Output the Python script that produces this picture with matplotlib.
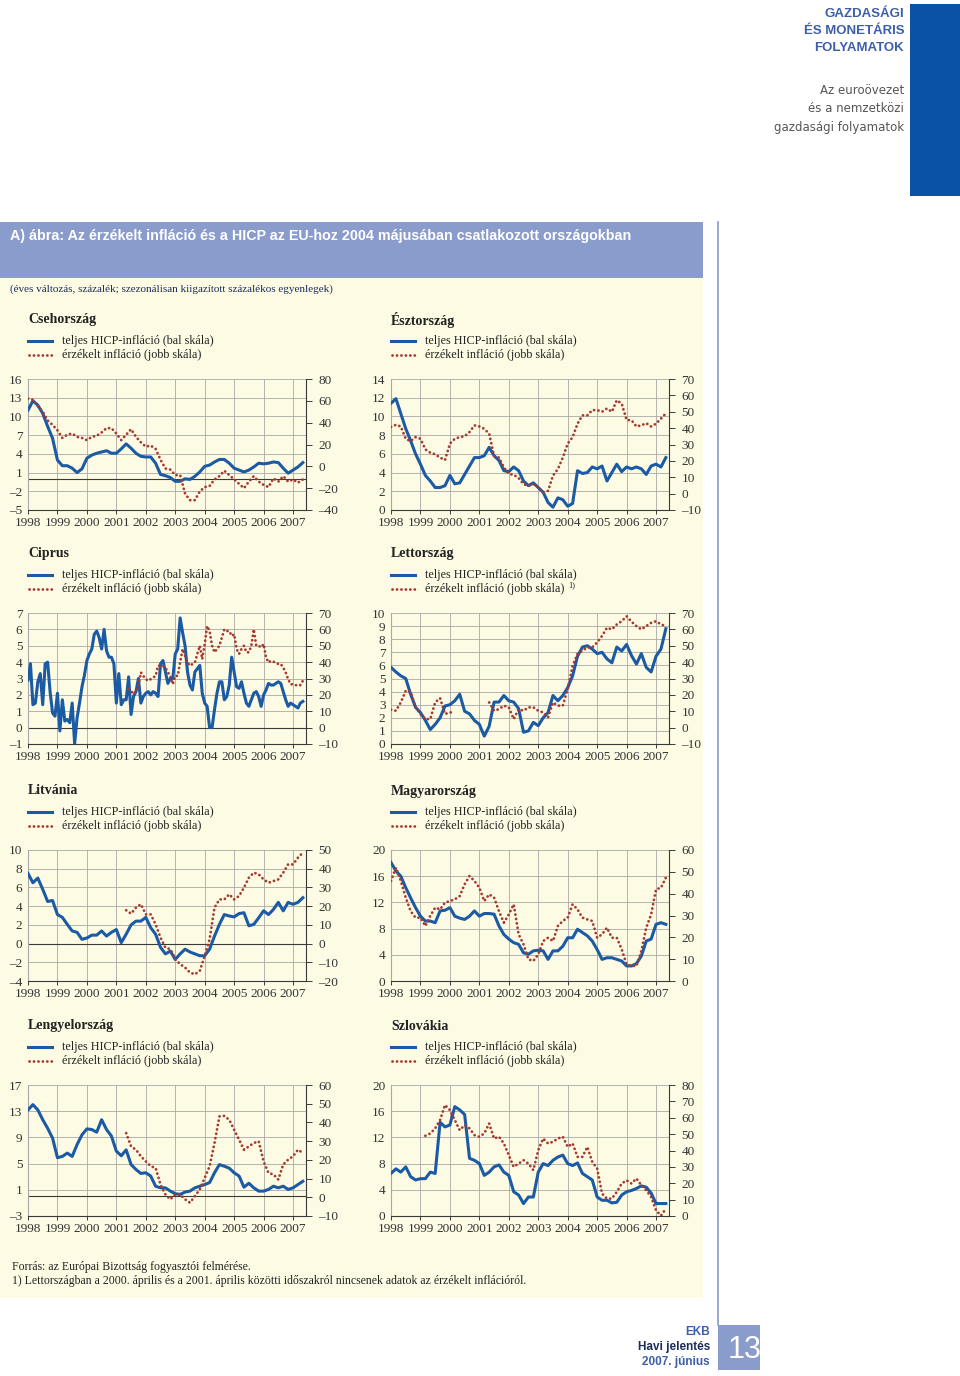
import numpy as np
import matplotlib
matplotlib.use('Agg')
import matplotlib.pyplot as plt
from matplotlib.lines import Line2D
from matplotlib.patches import Rectangle

W, H = 960, 1376
SERIF = ['Liberation Serif', 'DejaVu Serif']
SANS = ['Liberation Sans', 'DejaVu Sans']

BLUE = '#1b5aa5'
RED = '#a53a30'
BAR = '#8a9ccc'
CREAM = '#fdfbe3'

YEARS = list(range(1998, 2008))

# monthly index 0 = January 1998; most series are read every 2 months
cz_hicp = [11.0, 12.5, 11.8, 10.5, 8.4, 6.5,
           3.0, 2.1, 2.1, 1.7, 1.0, 1.6,
           3.3, 3.8, 4.1, 4.3, 4.5, 4.1,
           4.1, 4.8, 5.6, 4.9, 4.1, 3.6,
           3.5, 3.5, 2.5, 0.7, 0.5, 0.2,
           -0.4, -0.4, 0.0, -0.1, 0.4, 1.1,
           2.0, 2.2, 2.7, 3.1, 3.1, 2.5,
           1.7, 1.4, 1.1, 1.4, 1.9, 2.5,
           2.4, 2.5, 2.7, 2.6, 1.7, 0.9,
           1.4, 1.9, 2.6]
cz_perc = [62, 61, 55, 50, 42, 38,
           33, 26, 29, 30, 27, 26,
           24, 27, 28, 31, 35, 35,
           30, 24, 29, 34, 27, 22,
           18, 19, 16, 6, -2, -3,
           -8, -8, -25, -31, -31, -23,
           -19, -18, -12, -9, -4, -8,
           -12, -16, -20, -14, -9, -14,
           -17, -19, -11, -14, -9, -14,
           -12, -15, -12]

ee_hicp = [11.4, 11.9, 10.3, 8.7, 7.4, 6.0,
           4.9, 3.7, 3.1, 2.4, 2.4, 2.6,
           3.7, 2.8, 2.9, 3.8, 4.7, 5.6,
           5.6, 5.8, 6.7, 5.8, 5.3, 4.2,
           4.1, 4.6, 4.2, 3.1, 2.6, 2.9,
           2.4, 1.9, 0.8, 0.3, 1.3, 1.1,
           0.4, 0.7, 4.2, 3.9, 4.0, 4.6,
           4.4, 4.7, 3.1, 4.0, 4.9, 4.1,
           4.6, 4.4, 4.6, 4.4, 3.8, 4.7,
           4.9, 4.6, 5.6]
ee_perc = [40.7, 42, 41, 33.5, 32, 34.5,
           33.5, 27, 25, 24, 22, 20.5,
           30.5, 33.5, 34.5, 35, 37.6, 41.7,
           41, 39.6, 36.6, 23, 22, 16,
           12, 11.5, 9.5, 5.8, 4.8, 5.8,
           3.8, 0.6, 1.7, 11, 15, 22,
           30.5, 34.5, 42.7, 47.8, 47.8, 51,
           51, 50, 52, 50, 57, 55,
           45, 44.8, 41, 41.7, 43, 41,
           42.7, 45.8, 49]

# Cyprus is read every month
cy_hicp = [2.9, 3.9, 1.4, 1.5, 2.8, 3.3, 1.4, 3.9, 4.0, 2.2, 0.9, 0.7,
           2.1, -0.2, 1.7, 0.4, 0.5, 0.3, 1.5, -1.0, 0.6, 1.5, 2.5, 3.2,
           4.1, 4.5, 4.8, 5.7, 5.9, 5.5, 4.8, 6.0, 4.7, 4.3, 4.3, 3.9,
           1.5, 3.3, 1.4, 1.7, 1.7, 3.1, 0.8, 1.9, 2.2, 3.0, 1.5, 1.9,
           2.1, 2.2, 2.0, 2.2, 2.1, 1.9, 3.9, 4.1, 3.4, 2.7, 3.0, 3.0,
           4.5, 4.8, 6.7, 5.8, 5.0, 3.4, 2.6, 2.3, 3.4, 3.6, 3.8, 2.1,
           1.5, 1.3, 0.0, 0.0, 1.1, 2.1, 2.8, 2.8, 1.7, 1.9, 2.6, 4.3,
           3.4, 2.5, 2.4, 2.8, 2.1, 1.5, 1.3, 1.7, 2.1, 2.2, 1.9, 1.3,
           2.0, 2.3, 2.7, 2.6, 2.6, 2.7, 2.8, 2.7, 2.2, 1.7, 1.3, 1.5,
           1.4, 1.3, 1.2, 1.5, 1.6]
cy_perc = [23.5, 22.4, 20.4, 22, 25.5, 33.7, 31.6,
           29.6, 28.6, 29.6, 30.6, 31.6, 37.8, 37.8, 37.8, 36.7, 33.7, 31.6, 26.5,
           31.6, 31.6, 40, 48, 43.9, 39.8, 37.8, 38.8, 39.8, 45, 50, 41.8,
           51, 62, 59, 50, 46, 48, 50, 55, 60, 59, 59, 56,
           57, 48, 45, 48, 50, 46, 46, 50, 60, 50, 50, 49,
           51, 42.9, 39.8, 40.8, 40.2, 39.8, 38.8, 38.8, 36.7, 33.7, 29.6, 26.5,
           26.5, 26, 25.5, 26, 28.6]

lv_hicp = [5.85, 5.5, 5.2, 5.0, 3.8, 2.8,
           2.4, 1.8, 1.1, 1.5, 2.0, 2.9,
           3.0, 3.3, 3.8, 2.5, 2.3, 1.8,
           1.5, 0.6, 1.35, 3.2, 3.2, 3.7,
           3.3, 3.2, 2.7, 0.9, 1.0, 1.65,
           1.4, 2.0, 2.4, 3.7, 3.3, 3.7,
           4.3, 5.2, 6.7, 7.4, 7.5, 7.25,
           6.9, 7.0, 6.5, 6.2, 7.4, 7.1,
           7.6, 6.75, 6.1, 6.9, 5.85, 5.5,
           6.7, 7.25, 8.8]
nan = np.nan
lv_perc = [11, 10.3, 15.4, 22.5, 22, 12.4,
           8.3, 5.2, 5.2, 15.4, 18, 8.3,
           9.3, 9.3, nan, nan, nan, nan,
           nan, nan, 15.4, 10.3, 11.3, 13.4,
           12.4, 5.2, 11.3, 10.3, 12.4, 12.4,
           10.3, 9.3, 6.3, 15.4, 13.4, 13.4,
           23.6, 37.8, 45, 47, 49, 49,
           52, 56, 61, 60, 63, 65,
           68, 64.7, 62, 60, 62, 64,
           65, 63, 62]

lt_hicp = [7.5, 6.5, 7.0, 5.8, 4.5, 4.6,
           3.1, 2.8, 2.05, 1.35, 1.2, 0.45,
           0.6, 0.9, 0.9, 1.35, 0.8, 1.2,
           1.5, 0.1, 1.0, 2.0, 2.4, 2.4,
           2.8, 1.7, 1.0, -0.4, -1.1, -0.8,
           -1.7, -1.1, -0.6, -0.9, -1.1, -1.3,
           -1.3, -0.6, 0.8, 2.05, 3.1, 2.95,
           2.85, 3.2, 3.3, 1.9, 2.05, 2.75,
           3.5, 3.1, 3.65, 4.4, 3.5, 4.4,
           4.2, 4.4, 4.9]
lt_perc = [17.8, 16, 19.2, 21,
           15.6, 15.6, 10.3, 3.2, -2.2, -3,
           -8.4, -11, -12.8, -15.5, -16.4, -14.6,
           -6.6, 2.3, 19.2, 23.6, 23.6, 26.3,
           23.6, 25.4, 29.9, 35.2, 37.9, 37,
           34.3, 32.5, 33.4, 34.3, 37.9, 42.3,
           42.3, 45.9, 48.6]

hu_hicp = [18.1, 16.8, 16.0, 14.25, 12.7, 11.2,
           9.9, 9.15, 9.15, 8.9, 10.7, 10.8,
           11.2, 9.9, 9.6, 9.4, 9.9, 10.7,
           9.9, 10.3, 10.3, 10.2, 8.4, 7.1,
           6.4, 5.85, 5.6, 4.3, 4.1, 4.6,
           4.7, 4.6, 3.3, 4.6, 4.6, 5.3,
           6.6, 6.6, 7.9, 7.4, 6.9, 6.1,
           4.8, 3.3, 3.55, 3.55, 3.3, 3.05,
           2.3, 2.3, 2.65, 3.8, 6.1, 6.4,
           8.65, 8.9, 8.65]
hu_perc = [45.8, 51.9, 45.8, 38.2, 32, 29,
           29, 25.2, 29.8, 33.6, 32.8, 35.9,
           36.6, 37.4, 38.9, 44.3, 48.1, 45.8,
           42.7, 36.6, 39.7, 38.2, 32, 26.7,
           30.5, 35.1, 21.4, 16.8, 9.9, 9.2,
           12.2, 18.3, 19.8, 18.3, 25.2, 27.5,
           29, 35.1, 32.8, 29, 28.2, 27.5,
           19.8, 21.4, 24.4, 19.8, 19.8, 14.5,
           7.6, 6.9, 6.9, 13.7, 24.4, 30.5,
           42, 42.7, 47.3]

pl_hicp = [13.2, 14.0, 13.2, 11.7, 10.4, 8.9,
           5.9, 6.1, 6.6, 6.1, 7.9, 9.4,
           10.3, 10.2, 9.8, 11.7, 10.2, 9.2,
           6.9, 6.2, 7.1, 4.85, 4.1, 3.5,
           3.6, 3.1, 1.55, 1.3, 1.3, 0.8,
           0.4, 0.3, 0.65, 0.8, 1.3, 1.55,
           1.8, 2.1, 3.6, 4.85, 4.6, 4.3,
           3.6, 3.1, 1.4, 2.0, 1.3, 0.8,
           0.8, 1.05, 1.55, 1.3, 1.55, 1.05,
           1.3, 1.8, 2.3]
pl_perc = [34.3, 27.2, 25.4, 21.9,
           19.2, 16.6, 15.7, 6.8, 1.5, -1.1,
           1.5, 1.5, -1.1, -2.9, 0.6, 4.2,
           10.4, 16.6, 29, 43.2, 43.5, 41.4,
           36.1, 30.8, 25.4, 27.2, 29, 29.9,
           19.2, 13, 12.2, 9.5, 17.5, 20.1,
           21.9, 25.4, 23.7]

sk_hicp = [6.5, 7.2, 6.7, 7.5, 6.0, 5.5,
           5.7, 5.7, 6.7, 6.5, 14.3, 13.6,
           13.9, 16.7, 16.2, 15.5, 8.8, 8.5,
           8.0, 6.2, 6.7, 7.5, 7.8, 6.7,
           6.2, 3.7, 3.2, 1.9, 2.9, 2.9,
           6.7, 8.0, 7.7, 8.5, 9.0, 9.3,
           8.0, 7.7, 8.1, 6.5, 6.0, 5.5,
           2.9, 2.4, 2.4, 2.0, 2.1, 3.2,
           3.7, 3.9, 4.2, 4.6, 4.4, 3.5,
           1.9, 1.9, 1.9]
sk_perc = [49, 50.4, 53.5, 58.6, 67.8,
           64.7, 58.6, 52.4, 55.5, 53.5, 49.4,
           48.4, 50.4, 56.5, 47.3, 48.4, 44.3,
           37.1, 30, 32, 34.1, 32, 28,
           40.2, 47.3, 44.3, 45.3, 47.3, 48.4,
           42.2, 44.3, 36.1, 36.1, 42.2, 33.1,
           29, 13.7, 10.6, 10.6, 14.7, 19.8,
           21.8, 19.8, 22.9, 18.8, 15.7, 11.6,
           3.5, 0.2, 4.5]

# (name, hicp, hicp start month, step, perceived, start month, step,
#  left limits, left step, right limits, right step)
panels = [
    ('Csehország', cz_hicp, 0, 2, cz_perc, 0, 2, (-5, 16), 3, (-40, 80), 20),
    ('Észtország', ee_hicp, 0, 2, ee_perc, 0, 2, (0, 14), 2, (-10, 70), 10),
    ('Ciprus', cy_hicp, 0, 1, cy_perc, 41, 1, (-1, 7), 1, (-10, 70), 10),
    ('Lettország', lv_hicp, 0, 2, lv_perc, 0, 2, (0, 10), 1, (-10, 70), 10),
    ('Litvánia', lt_hicp, 0, 2, lt_perc, 40, 2, (-4, 10), 2, (-20, 50), 10),
    ('Magyarország', hu_hicp, 0, 2, hu_perc, 0, 2, (0, 20), 4, (0, 60), 10),
    ('Lengyelország', pl_hicp, 0, 2, pl_perc, 40, 2, (-3, 17), 4, (-10, 60), 10),
    ('Szlovákia', sk_hicp, 0, 2, sk_perc, 14, 2, (0, 20), 4, (0, 80), 10),
]

LEG_HICP = 'teljes HICP-infláció (bal skála)'
LEG_PERC = 'érzékelt infláció (jobb skála)'

COL_X = [28, 391]
ROW_TOP = [379, 613, 850, 1085]
AX_W, AX_H = 278, 131


def dates(start, step, n):
    return 1998 + (start + step * np.arange(n)) / 12.0


def lab(v):
    return str(v).replace('-', '\u2013')


def ftext(x, y, s, **kw):
    return fig.text(x / W, 1 - y / H, s, **kw)


def fline(x0, x1, y0, y1, **kw):
    fig.add_artist(Line2D([x0 / W, x1 / W], [1 - y0 / H, 1 - y1 / H],
                          transform=fig.transFigure, **kw))


def frect(x0, y0, x1, y1, color):
    fig.add_artist(Rectangle((x0 / W, 1 - y1 / H), (x1 - x0) / W, (y1 - y0) / H,
                             transform=fig.transFigure, color=color, lw=0,
                             zorder=-5))


DOT = dict(color=RED, lw=2.0, linestyle=(0, (0.05, 1.55)), dash_capstyle='round')

fig = plt.figure(figsize=(W / 100, H / 100), dpi=100)
fig.patch.set_facecolor('white')

# page furniture
frect(910, 4, 960, 196, '#0a52a5')
frect(0, 222, 703, 278, BAR)
frect(0, 278, 703, 1298, CREAM)
fline(718, 718, 222, 1325, color=BAR, lw=1.2, zorder=-5)
frect(718, 1325, 760, 1370, BAR)

for y, s in [(14, 'GAZDASÁGI'), (31, 'ÉS MONETÁRIS'), (48, 'FOLYAMATOK')]:
    ftext(904, y, s, ha='right', va='center', family=SANS, weight='bold',
          size=9.5, color='#3d5fa9')
for y, s in [(91, 'Az euroövezet'), (109, 'és a nemzetközi'), (127, 'gazdasági folyamatok')]:
    ftext(904, y, s, ha='right', va='center', family='DejaVu Sans', size=8.5,
          color='#555555')

ftext(10, 236, 'A) ábra: Az érzékelt infláció és a HICP az EU-hoz 2004 májusában '
      'csatlakozott országokban', ha='left', va='center', family=SANS,
      weight='bold', size=10.3, color='white')
ftext(10, 289, '(éves változás, százalék; szezonálisan kiigazított százalékos egyenlegek)',
      ha='left', va='center', family=SERIF, size=8, color='#1c2d5a')

ftext(12, 1267, 'Forrás: az Európai Bizottság fogyasztói felmérése.', ha='left',
      va='center', family=SERIF, size=8.5, color='#222222')
ftext(12, 1281, '1) Lettországban a 2000. április és a 2001. április közötti időszakról '
      'nincsenek adatok az érzékelt inflációról.', ha='left', va='center',
      family=SERIF, size=8.5, color='#222222')

ftext(710, 1332, 'EKB', ha='right', va='center', family=SANS, size=8.5,
      weight='bold', color='#3d5fa9')
ftext(710, 1347, 'Havi jelentés', ha='right', va='center', family=SANS, size=8.5,
      weight='bold', color='#1c2d5a')
ftext(710, 1362, '2007. június', ha='right', va='center', family=SANS, size=8.5,
      weight='bold', color='#3d5fa9')
ftext(762, 1350, '13', ha='right', va='center', family=SANS, size=22,
      color='white')

notes = []
for i, (name, hicp, h0, hs, perc, p0, ps, llim, lstep, rlim, rstep) in enumerate(panels):
    x0 = COL_X[i % 2]
    top = ROW_TOP[i // 2]
    ax = fig.add_axes([x0 / W, 1 - (top + AX_H) / H, AX_W / W, AX_H / H])
    ax.patch.set_visible(False)

    lt = list(range(llim[0], llim[1] + 1, lstep))
    rt = list(range(rlim[0], rlim[1] + 1, rstep))

    ax.set_xlim(1998, 2007.44)
    ax.set_ylim(llim)
    ax.set_xticks(YEARS)
    ax.set_xticklabels([str(y) for y in YEARS])
    ax.set_yticks(lt)
    ax.set_yticklabels([lab(v) for v in lt])
    ax.grid(True, color='#a8a8a8', lw=0.6)
    ax.set_axisbelow(True)
    if llim[0] < 0:
        ax.axhline(0, color='#3a3a3a', lw=0.8, zorder=1)

    for s in ['top', 'right']:
        ax.spines[s].set_visible(False)
    ax.spines['left'].set_color('#a8a8a8')
    ax.spines['left'].set_linewidth(0.8)
    ax.spines['bottom'].set_color('#3a3a3a')
    ax.spines['bottom'].set_linewidth(0.8)
    ax.tick_params(axis='x', direction='out', length=3, width=0.7, color='#3a3a3a',
                   pad=2, labelsize=9.5, labelcolor='#333333')
    ax.tick_params(axis='y', length=0, pad=4, labelsize=9.5, labelcolor='#333333')
    for t in ax.get_xticklabels() + ax.get_yticklabels():
        t.set_family(SERIF)

    ax.plot(dates(h0, hs, len(hicp)), hicp, color=BLUE, lw=2.2,
            solid_joinstyle='round', zorder=3)

    ax2 = ax.twinx()
    ax2.set_ylim(rlim)
    ax2.set_yticks(rt)
    ax2.set_yticklabels([lab(v) for v in rt])
    for s in ['top', 'left', 'bottom']:
        ax2.spines[s].set_visible(False)
    ax2.spines['right'].set_color('#3a3a3a')
    ax2.spines['right'].set_linewidth(0.8)
    ax2.tick_params(axis='y', direction='out', length=4, width=0.7, color='#3a3a3a',
                    pad=5, labelsize=9.5, labelcolor='#333333')
    for t in ax2.get_yticklabels():
        t.set_family(SERIF)
    ax2.plot(dates(p0, ps, len(perc)), perc, zorder=3, **DOT)

    # titles and legend
    ftext(x0, top - 59, name, ha='left', va='center', family=SERIF,
          weight='bold', size=10, color='#222222')
    fline(x0, x0 + 24, top - 38, top - 38, color=BLUE, lw=2.2)
    fline(x0 + 1, x0 + 24, top - 24, top - 24, **DOT)
    ftext(x0 + 34, top - 38, LEG_HICP, ha='left', va='center', family=SERIF,
          size=8.7, color='#222222')
    t = ftext(x0 + 34, top - 24, LEG_PERC, ha='left', va='center', family=SERIF,
              size=8.7, color='#222222')
    if name == 'Lettország':
        notes.append((t, top - 24))

renderer = fig.canvas.get_renderer()
for t, y in notes:
    bb = t.get_window_extent(renderer=renderer)
    ftext(bb.x1 + 4, y - 4, '1)', ha='left', va='center', family=SERIF, size=6,
          color='#222222')

fig.savefig('out.png', dpi=100, facecolor=fig.get_facecolor())
